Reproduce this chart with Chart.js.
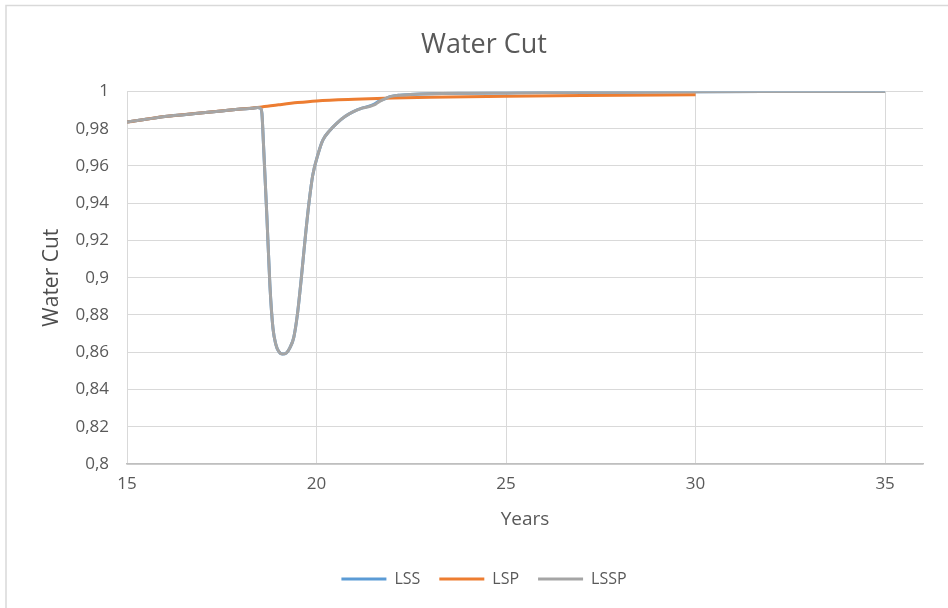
<!DOCTYPE html>
<html>
<head>
<meta charset="utf-8">
<script src="https://cdn.jsdelivr.net/npm/chart.js@4.4.1/dist/chart.umd.min.js"></script>
<style>
  html, body { margin: 0; padding: 0; background: #fff; }
  canvas { display: block; }
</style>
</head>
<body>
<canvas id="water-cut" width="948" height="608"></canvas>
<script>
// Обводненность по годам для трёх вариантов
var lssYears = [15, 15.5, 16, 16.5, 17, 17.5, 18, 18.3, 18.45, 18.52, 18.56, 18.6, 18.69, 18.77, 18.85, 18.93, 19.0, 19.1, 19.2, 19.3, 19.4, 19.5, 19.6, 19.7, 19.8, 19.9, 20.05, 20.17, 20.35, 20.54, 20.75, 20.96, 21.2, 21.41, 21.55, 21.65, 21.8, 21.94, 22.2, 22.47, 23, 24, 25, 26, 28, 30, 32, 35];
var lssValues = [0.9835, 0.985, 0.9865, 0.9875, 0.9885, 0.9895, 0.9905, 0.991, 0.9913, 0.991, 0.988, 0.972, 0.933, 0.896, 0.873, 0.864, 0.8605, 0.859, 0.8595, 0.8625, 0.868, 0.881, 0.9, 0.921, 0.94, 0.955, 0.967, 0.974, 0.979, 0.983, 0.9865, 0.989, 0.991, 0.9922, 0.9935, 0.9948, 0.996, 0.9972, 0.998, 0.9983, 0.9987, 0.999, 0.9992, 0.9994, 0.9996, 0.9998, 0.9999, 0.9999];

var lspYears = [15, 16, 17, 18, 18.5, 19, 19.5, 20, 21, 22, 23, 25, 27, 30];
var lspValues = [0.9835, 0.9865, 0.9885, 0.9905, 0.9915, 0.9928, 0.994, 0.9949, 0.9958, 0.9964, 0.9968, 0.9974, 0.9978, 0.9982];

var lsspYears = [15, 15.5, 16, 16.5, 17, 17.5, 18, 18.3, 18.45, 18.52, 18.56, 18.6, 18.69, 18.77, 18.85, 18.93, 19.0, 19.1, 19.2, 19.3, 19.4, 19.5, 19.6, 19.7, 19.8, 19.9, 20.05, 20.17, 20.35, 20.54, 20.75, 20.96, 21.2, 21.41, 21.55, 21.65, 21.8, 21.94, 22.2, 22.47, 23, 24, 25, 26, 28, 30, 32, 35];
var lsspValues = [0.9835, 0.985, 0.9865, 0.9875, 0.9885, 0.9895, 0.9905, 0.991, 0.9913, 0.991, 0.988, 0.972, 0.933, 0.896, 0.873, 0.864, 0.8605, 0.859, 0.8595, 0.8625, 0.868, 0.881, 0.9, 0.921, 0.94, 0.955, 0.967, 0.974, 0.979, 0.983, 0.9865, 0.989, 0.991, 0.992, 0.993, 0.9945, 0.996, 0.9972, 0.998, 0.9983, 0.9987, 0.999, 0.9992, 0.9994, 0.9996, 0.9998, 0.9999, 0.9999];

var xTicks = [15, 20, 25, 30, 35];

function toPoints(xs, ys) {
    return xs.map(function(x, i) { return { x: x, y: ys[i] }; });
}

// order: меньшее значение рисуется поверх
function makeSeries(label, color, xs, ys, order) {
    return {
        label: label,
        data: toPoints(xs, ys),
        borderColor: color,
        backgroundColor: color,
        borderWidth: 3,
        pointRadius: 0,
        cubicInterpolationMode: 'monotone',
        fill: false,
        order: order
    };
}

var textColor = '#595959';
var gridColor = '#d9d9d9';
var fontFamily = '"Open Sans", sans-serif';

// рамка вокруг всей диаграммы
var frame = {
    id: 'frame',
    beforeDraw: function(chart) {
        var ctx = chart.ctx;
        ctx.save();
        ctx.fillStyle = '#fff';
        ctx.fillRect(0, 0, chart.width, chart.height);
        ctx.strokeStyle = '#d9d9d9';
        ctx.lineWidth = 1.5;
        ctx.strokeRect(6, 5.5, 1000, 1000);
        ctx.restore();
    }
};

new Chart(document.getElementById('water-cut'), {
    type: 'line',
    data: {
        datasets: [
            makeSeries('LSS', '#5b9bd5', lssYears, lssValues, 2),
            makeSeries('LSP', '#ed7d31', lspYears, lspValues, 1),
            makeSeries('LSSP', '#a5a5a5', lsspYears, lsspValues, 0)
        ]
    },
    options: {
        responsive: false,
        animation: false,
        layout: { padding: { left: 45, right: 25, top: 0, bottom: 11 } },
        plugins: {
            title: {
                display: true,
                text: 'Water Cut',
                color: textColor,
                font: { family: fontFamily, size: 27, weight: 'normal' },
                padding: { top: 29, bottom: 30 }
            },
            legend: {
                position: 'bottom',
                labels: {
                    color: textColor,
                    font: { family: fontFamily, size: 16 },
                    boxWidth: 45,
                    boxHeight: 3,
                    padding: 19,
                    sort: function(a, b) { return a.datasetIndex - b.datasetIndex; },
                    generateLabels: function(chart) {
                        var items = Chart.defaults.plugins.legend.labels.generateLabels(chart);
                        items.forEach(function(it) { it.lineWidth = 0; });
                        return items;
                    }
                }
            },
            tooltip: { enabled: false }
        },
        scales: {
            x: {
                type: 'linear',
                min: 15,
                max: 36,
                afterBuildTicks: function(scale) {
                    scale.ticks = xTicks.map(function(v) { return { value: v }; });
                },
                afterFit: function(scale) { scale.height = 88; },
                grid: { color: gridColor, drawTicks: false },
                border: { color: '#bfbfbf', width: 1.5 },
                ticks: {
                    color: textColor,
                    padding: 10,
                    font: { family: fontFamily, size: 17 },
                    maxRotation: 0
                },
                title: {
                    display: true,
                    text: 'Years',
                    color: textColor,
                    font: { family: fontFamily, size: 19 },
                    padding: { top: 0, bottom: 21 }
                }
            },
            y: {
                min: 0.8,
                max: 1,
                afterFit: function(scale) { scale.width = 82; },
                grid: { color: gridColor, drawTicks: false },
                border: { display: false },
                ticks: {
                    stepSize: 0.02,
                    color: textColor,
                    padding: 18,
                    font: { family: fontFamily, size: 17 },
                    callback: function(v) {
                        return String(parseFloat(Number(v).toFixed(2))).replace('.', ',');
                    }
                },
                title: {
                    display: true,
                    text: 'Water Cut',
                    color: '#4d4d4d',
                    font: { family: fontFamily, size: 21, weight: '500' },
                    padding: { top: -6, bottom: 0 }
                }
            }
        }
    },
    plugins: [frame]
});
</script>
</body>
</html>
